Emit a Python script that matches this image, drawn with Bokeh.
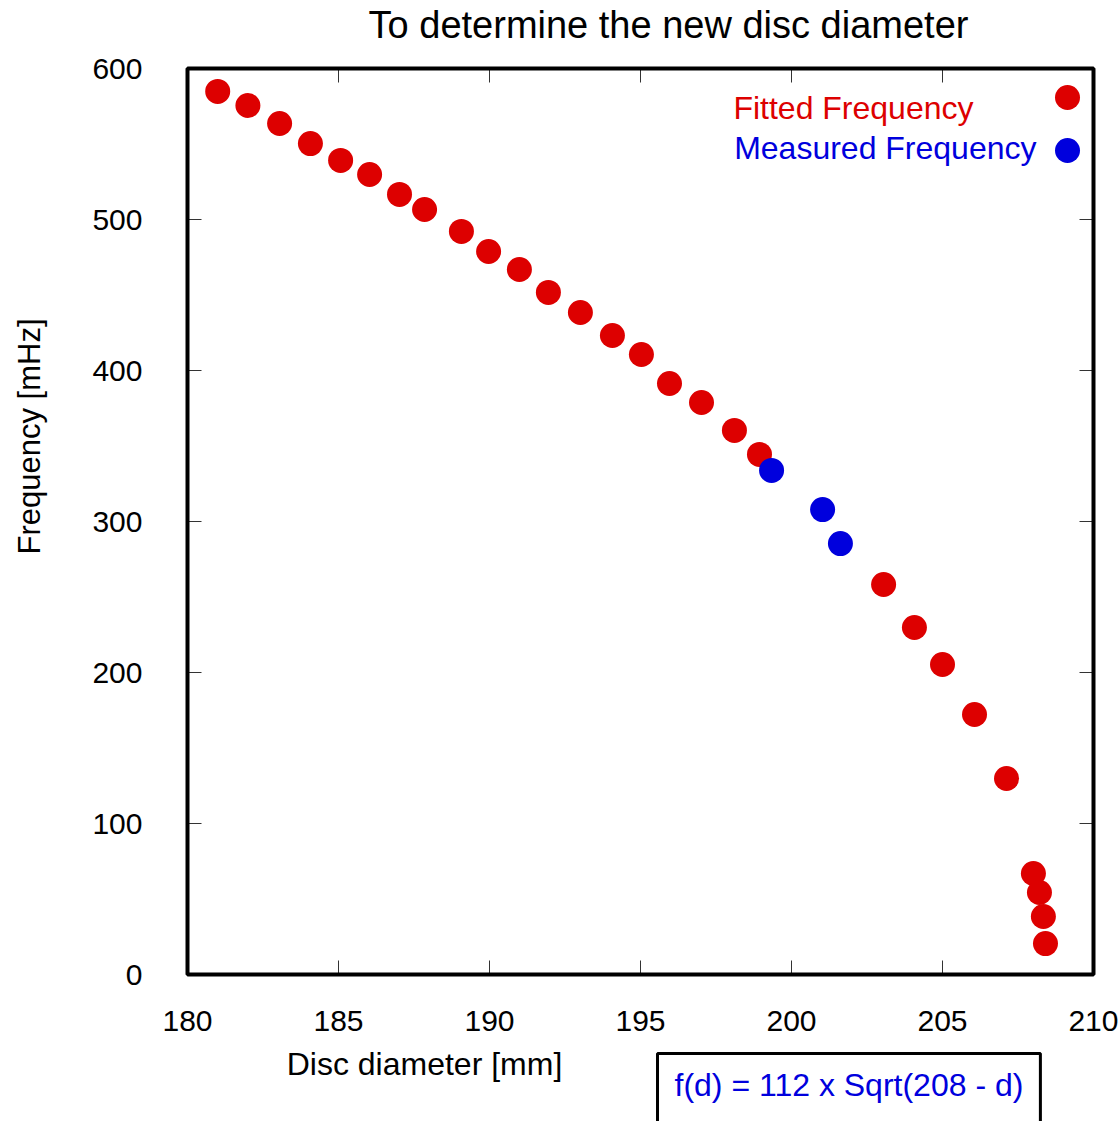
from math import pi
from bokeh.plotting import figure
from bokeh.models import Label, LinearAxis, FixedTicker, Range1d, BoxAnnotation
from bokeh.embed import file_html
from bokeh.resources import INLINE

# ---- data ----
fitted_d = [181.0, 182.0, 183.05, 184.07, 185.07, 186.03, 187.02, 187.85, 189.07,
            189.97, 190.99, 191.95, 193.01, 194.07, 195.03, 195.96, 197.02, 198.11,
            198.94, 203.05, 204.07, 205.0, 206.06, 207.12, 208.01, 208.21, 208.34, 208.41]
fitted_f = [584.8, 575.5, 563.6, 550.3, 539.1, 529.8, 516.6, 506.6, 492.1,
            478.8, 466.9, 451.7, 438.4, 423.2, 410.6, 391.4, 378.8, 360.3,
            344.4, 258.3, 229.8, 205.3, 172.2, 129.8, 66.9, 54.3, 38.4, 20.5]
measured_d = [199.34, 201.03, 201.62]
measured_f = [333.8, 307.9, 285.4]

x_ticks = [180, 185, 190, 195, 200, 205, 210]
y_ticks = [0, 100, 200, 300, 400, 500, 600]

legend_labels = ["Fitted Frequency", "Measured Frequency"]
title_text = "To determine the new disc diameter"
x_label = "Disc diameter [mm]"
y_label = "Frequency [mHz]"
formula_text = "f(d) = 112 x Sqrt(208 - d)"

RED = "#DD0000"
BLUE = "#0000DD"
FONT = "Liberation Sans"

# ---- layout: the whole canvas is the frame; the plot box sits at these pixels ----
W, H = 1118, 1121
BOX_L, BOX_R, BOX_T, BOX_B = 187, 1093, 68, 974
x_min, x_max = x_ticks[0], x_ticks[-1]
y_min, y_max = y_ticks[0], y_ticks[-1]
sx = (BOX_R - BOX_L) / (x_max - x_min)
sy = (BOX_B - BOX_T) / (y_max - y_min)
def dx(px):
    return x_min + (px - BOX_L) / sx
def dy(py):
    return y_min + (BOX_B - py) / sy

p = figure(width=W, height=H,
           x_range=Range1d(dx(0), dx(W)), y_range=Range1d(dy(H), dy(0)),
           output_backend="svg", toolbar_location=None, min_border=0,
           x_axis_location=None, y_axis_location=None)
p.grid.visible = False
p.outline_line_color = None
p.background_fill_color = "white"
p.border_fill_color = "white"

# plot box
p.add_layout(BoxAnnotation(left=x_min, right=x_max, bottom=y_min, top=y_max,
                           fill_alpha=0, line_color="black", line_alpha=1.0,
                           line_width=4))

def make_axis(ticks, loc, side, show_labels, standoff):
    ax = LinearAxis(fixed_location=loc)
    ax.ticker = FixedTicker(ticks=ticks)
    ax.major_tick_in = 14
    ax.major_tick_out = 0
    ax.minor_tick_in = 0
    ax.minor_tick_out = 0
    ax.axis_line_color = None
    ax.major_tick_line_color = "#333333"
    ax.major_tick_line_width = 1
    ax.major_label_text_font = FONT
    ax.major_label_standoff = standoff
    if show_labels:
        ax.major_label_text_font_size = "30px"
        ax.major_label_text_color = "black"
    else:
        ax.major_label_text_font_size = "0px"
        ax.major_label_text_alpha = 0
    p.add_layout(ax, side)

make_axis(x_ticks, y_min, "below", True, 36)
make_axis(x_ticks, y_max, "above", False, 0)
make_axis(y_ticks, x_min, "left", True, 45)
make_axis(y_ticks, x_max, "right", False, 0)

p.scatter(fitted_d, fitted_f, size=25, color=RED, line_color=None)
p.scatter(measured_d, measured_f, size=25, color=BLUE, line_color=None)

# legend (label left, marker right)
legend_d = [dx(1067), dx(1067)]
legend_f = [dy(97), dy(150)]
p.scatter(legend_d, legend_f, size=25, color=[RED, BLUE], line_color=None)
p.add_layout(Label(x=dx(973), y=dy(107), text=legend_labels[0], text_font=FONT,
                   text_font_size="32px", text_color=RED,
                   text_align="right", text_baseline="middle"))
p.add_layout(Label(x=dx(1036), y=dy(147), text=legend_labels[1], text_font=FONT,
                   text_font_size="32px", text_color=BLUE,
                   text_align="right", text_baseline="middle"))

# title and axis titles
p.add_layout(Label(x=dx(668), y=dy(24), text=title_text, text_font=FONT,
                   text_font_size="38px", text_color="black",
                   text_align="center", text_baseline="middle"))
p.add_layout(Label(x=dx(424), y=dy(1063), text=x_label, text_font=FONT,
                   text_font_size="32px", text_color="black",
                   text_align="center", text_baseline="middle"))
p.add_layout(Label(x=dx(29), y=dy(436), text=y_label, text_font=FONT,
                   text_font_size="31px", text_color="black", angle=pi / 2,
                   text_align="center", text_baseline="middle"))

# formula box (padding order: left, right, top, bottom)
p.add_layout(Label(x=dx(657), y=dy(1053), text=formula_text, text_font=FONT,
                   text_font_size="32px", text_color=BLUE,
                   text_align="left", text_baseline="top",
                   border_line_color="black", border_line_width=3,
                   background_fill_color="white",
                   padding=(17, 17, 13, 60)))

open("out.html", "w").write(file_html(p, INLINE))
